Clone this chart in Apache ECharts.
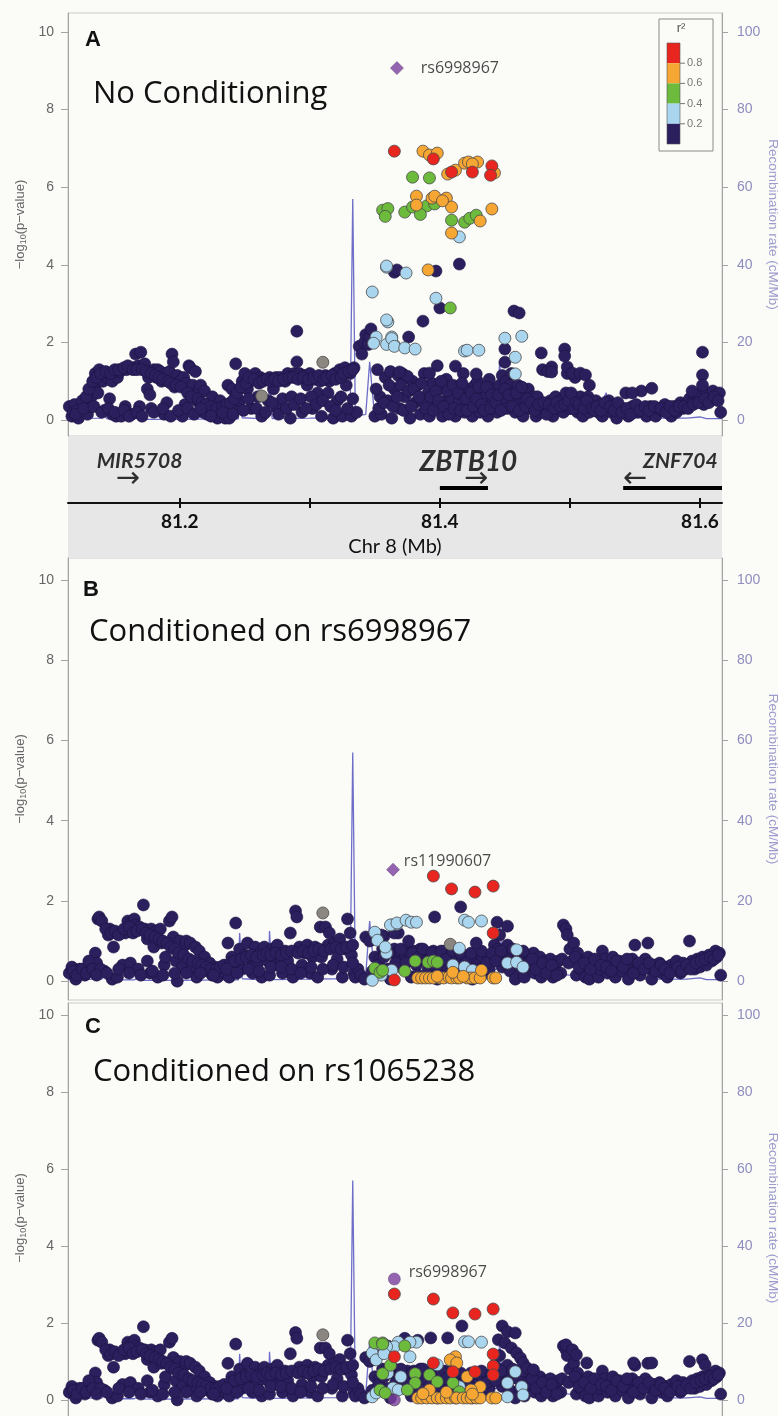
<!DOCTYPE html>
<html lang="en">
<head>
<meta charset="UTF-8">
<title>ZBTB10 regional association</title>
<script src="https://cdn.jsdelivr.net/npm/echarts@6/dist/echarts.min.js"></script>
<style>
  html, body { margin: 0; padding: 0; background: #fbfbf8; }
  #main { width: 778px; height: 1416px; }
</style>
</head>
<body>
<div id="main"></div>
<script>
// ---------- data (x = Chr 8 position in Mb, y = -log10 p) ----------
var r2Colors = ['#e8261f', '#f6a633', '#6cbb3c', '#a9d5ee', '#2c1f5e'];
var r2Breaks = ['0.8', '0.6', '0.4', '0.2'];
var yTicks = [0, 2, 4, 6, 8, 10];
var recTicks = [0, 20, 40, 60, 80, 100];
var chrTicks = [81.2, 81.3, 81.4, 81.5, 81.6];
var chrLabels = [81.2, 81.4, 81.6];

// recombination rate (cM/Mb), same map in every panel
var recomb = [[81.114,0.4],[81.140,0.5],[81.142,1.2],[81.144,0.3],[81.165,0.3],[81.168,0.8],[81.172,0.2],[81.200,0.2],
  [81.230,0.3],[81.245,0.3],[81.246,12],[81.248,0.6],[81.262,0.4],[81.264,0.8],[81.266,0.5],[81.268,0.6],[81.269,12.5],
  [81.271,0.4],[81.300,0.5],[81.320,0.6],[81.331,0.8],[81.333,57],[81.335,1],[81.343,1.5],[81.346,15],[81.349,4],
  [81.360,3],[81.380,2.5],[81.400,3],[81.420,2.5],[81.444,3],[81.446,15],[81.448,5],[81.460,3],[81.480,2],[81.500,1.5],
  [81.520,2],[81.528,7],[81.530,2],[81.545,0.8],[81.560,0.5],[81.590,0.5],[81.600,0.8],[81.605,0.4],[81.617,0.4]];

// genes
var geneNames = ['MIR5708', 'ZBTB10', 'ZNF704'];
var geneStart = [81.158, 81.400, 81.541];
var geneEnd = [81.159, 81.437, 81.617];
var geneStrand = ['+', '+', '-'];
var geneLabelX = [81.169, 81.422, 81.585];
var geneArrowX = [81.160, 81.428, 81.550];

// ---- panel A: no conditioning ----
var aLead = [[81.367, 9.07]];
var aRed = [[81.365,6.93],[81.395,6.73],[81.409,6.39],[81.425,6.39],[81.440,6.55],[81.439,6.31]];
var aOrange = [[81.387,6.93],[81.392,6.83],[81.398,6.88],[81.406,6.34],[81.412,6.44],[81.419,6.62],[81.422,6.65],
  [81.429,6.65],[81.442,6.37],[81.382,5.77],[81.382,5.54],[81.394,5.72],[81.396,5.77],[81.405,5.72],[81.409,5.49],
  [81.440,5.44],[81.431,5.13],[81.409,4.82],[81.391,3.87],[81.425,6.6],[81.402,5.65]];
var aGreen = [[81.379,6.26],[81.392,6.24],[81.356,5.41],[81.360,5.45],[81.358,5.25],[81.373,5.36],[81.379,5.49],
  [81.390,5.52],[81.396,5.57],[81.409,5.15],[81.419,5.1],[81.423,5.2],[81.428,5.28],[81.408,2.89],[81.385,5.3]];
var aLightBlue = [[81.415,4.72],[81.359,3.94],[81.374,3.79],[81.397,3.14],[81.360,2.53],[81.348,3.3],[81.359,3.97],
  [81.359,2.58],[81.351,2.14],[81.349,1.98],[81.363,2.14],[81.365,1.93],[81.359,1.95],[81.363,2.1],[81.365,1.9],
  [81.373,1.86],[81.381,1.83],[81.419,1.78],[81.421,1.8],[81.430,1.8],[81.450,2.11],[81.463,2.16],[81.458,1.62],[81.458,1.19]];
var aGrey = [[81.310,1.49],[81.263,0.62]];
var aNavy = [[81.115,0.35],[81.117,0.1],[81.119,0.4],[81.122,0.05],[81.124,0.3],[81.127,0.45],[81.129,0.15],[81.131,0.35],
  [81.132,0.6],[81.135,0.9],[81.135,1.2],[81.137,0.7],[81.138,1.3],[81.141,1.0],[81.142,0.25],[81.144,1.1],[81.146,0.55],
  [81.148,1.0],[81.148,0.15],[81.151,0.1],[81.152,1.1],[81.154,1.25],[81.155,0.1],[81.158,0.35],[81.159,1.3],[81.162,1.35],
  [81.163,0.15],[81.165,1.35],[81.166,1.7],[81.168,1.4],[81.169,0.35],[81.170,1.75],[81.172,1.4],[81.173,1.45],[81.175,0.8],
  [81.176,1.1],[81.177,0.65],[81.178,0.3],[81.180,1.3],[81.182,1.1],[81.183,1.3],[81.185,1.25],[81.186,1.0],[81.188,0.15],
  [81.189,1.2],[81.190,0.45],[81.192,1.25],[81.194,1.7],[81.195,1.5],[81.196,0.85],[81.198,1.15],[81.200,1.0],[81.202,0.1],
  [81.203,1.1],[81.204,0.4],[81.205,0.95],[81.207,1.4],[81.208,1.35],[81.210,0.9],[81.212,1.25],[81.213,0.5],[81.215,0.8],
  [81.216,0.9],[81.218,0.2],[81.219,0.75],[81.221,0.15],[81.223,0.4],[81.225,0.6],[81.227,0.3],[81.229,0.05],[81.231,0.5],
  [81.235,0.05],[81.237,0.9],[81.238,0.05],[81.240,0.8],[81.243,1.45],[81.245,0.35],[81.246,0.5],[81.248,1.0],[81.250,1.2],
  [81.252,0.8],[81.254,1.0],[81.255,0.3],[81.258,1.2],[81.260,0.6],[81.262,1.1],[81.263,0.1],[81.265,1.05],[81.268,0.5],
  [81.269,1.1],[81.272,0.8],[81.274,1.1],[81.275,0.3],[81.277,1.1],[81.279,0.55],[81.281,1.0],[81.283,1.2],[81.285,0.05],
  [81.286,0.6],[81.288,1.2],[81.290,1.5],[81.290,2.29],[81.292,1.2],[81.294,0.2],[81.296,1.15],[81.298,0.9],[81.300,1.2],
  [81.302,0.3],[81.304,1.05],[81.306,0.7],[81.308,1.0],[81.309,0.1],[81.312,1.15],[81.314,0.7],[81.315,1.0],[81.318,0.05],
  [81.319,1.2],[81.321,0.5],[81.323,1.3],[81.325,0.1],[81.327,1.35],[81.328,0.9],[81.331,1.2],[81.332,0.1],[81.334,1.35],
  [81.336,0.2],[81.338,1.9],[81.340,1.7],[81.342,2.0],[81.343,2.2],[81.345,1.95],[81.346,2.15],[81.347,2.35],
  [81.350,0.1],[81.352,1.3],[81.354,0.6],[81.355,0.15],[81.358,1.1],[81.360,0.5],[81.362,1.25],[81.363,0.05],[81.365,0.8],
  [81.368,1.15],[81.369,0.3],[81.371,1.2],[81.373,0.6],[81.375,1.1],[81.377,0.05],[81.379,1.0],[81.381,0.45],[81.383,0.9],
  [81.385,0.15],[81.387,0.5],[81.388,1.2],[81.391,0.7],[81.392,0.1],[81.394,0.95],[81.396,0.4],[81.398,1.4],[81.400,0.8],
  [81.402,0.1],[81.404,0.5],[81.405,1.05],[81.408,0.3],[81.409,0.55],[81.412,0.1],[81.413,0.85],[81.415,0.5],[81.418,1.2],
  [81.419,0.2],[81.422,0.8],[81.423,0.4],[81.425,0.1],[81.427,0.9],[81.429,1.0],[81.431,0.2],[81.433,0.7],[81.435,0.6],
  [81.437,0.1],[81.438,1.05],[81.441,0.5],[81.442,0.8],[81.444,0.2],[81.446,0.9],[81.448,1.15],[81.449,0.5],[81.451,1.0],
  [81.452,0.3],[81.454,0.9],[81.455,1.2],[81.457,0.6],[81.458,0.2],[81.460,0.9],[81.462,0.5],[81.464,0.1],[81.465,0.55],
  [81.468,0.8],[81.469,0.3],[81.472,0.6],[81.474,0.1],[81.475,0.6],[81.477,0.2],[81.479,1.3],[81.481,0.3],[81.483,1.25],
  [81.485,0.5],[81.487,0.1],[81.489,0.6],[81.491,0.3],[81.492,0.5],[81.495,0.2],[81.497,0.7],[81.498,1.2],[81.500,0.3],
  [81.502,0.5],[81.504,1.1],[81.506,0.2],[81.508,0.6],[81.510,0.1],[81.512,0.4],[81.514,0.6],[81.515,0.2],[81.518,0.4],
  [81.520,0.5],[81.522,0.2],[81.523,0.4],[81.525,0.1],[81.528,0.3],[81.530,0.5],[81.532,0.2],[81.535,0.4],[81.536,0.05],
  [81.538,0.3],[81.541,0.3],[81.543,0.7],[81.545,0.1],[81.548,0.35],[81.550,0.3],[81.552,0.2],[81.555,0.75],[81.557,0.3],
  [81.559,0.1],[81.562,0.35],[81.564,0.3],[81.566,0.1],[81.568,0.3],[81.571,0.25],[81.573,0.4],[81.575,0.3],[81.578,0.1],
  [81.580,0.35],[81.582,0.2],[81.585,0.45],[81.587,0.3],[81.589,0.4],[81.592,0.55],[81.594,0.45],[81.596,0.6],[81.598,0.5],
  [81.600,0.65],[81.603,0.4],[81.605,0.7],[81.608,0.55],[81.610,0.75],[81.612,0.6],[81.615,0.7],[81.616,0.2],
  [81.365,3.81],[81.367,3.87],[81.397,3.84],[81.415,4.02],[81.400,2.89],[81.387,2.55],[81.376,2.14],[81.457,2.81],
  [81.461,2.76],[81.450,1.83],[81.478,1.73],[81.496,1.83],[81.496,1.65],[81.498,1.37],[81.502,1.21],[81.508,1.21],
  [81.512,1.16],[81.515,0.9],[81.602,1.75],[81.602,1.16],[81.602,0.9],[81.594,0.75],[81.412,1.39],[81.428,1.19],
  [81.450,1.49],[81.392,1.21],[81.375,1.13],[81.369,1.24],[81.563,0.82],[81.548,0.7],[81.486,1.37],[81.486,1.24]];
// denser band of panel A background SNPs
var aNavyBand = [[81.118,0.2],[81.121,0.25],[81.125,0.5],[81.128,0.6],[81.130,0.8],[81.133,1.0],[81.136,1.1],[81.139,1.2],
  [81.143,1.25],[81.147,1.2],[81.150,1.3],[81.153,1.3],[81.157,1.35],[81.160,1.4],[81.164,1.3],[81.167,1.3],[81.171,1.3],
  [81.174,1.25],[81.178,1.2],[81.181,1.15],[81.184,1.1],[81.187,1.05],[81.191,1.0],[81.193,0.95],[81.197,0.9],[81.201,0.85],
  [81.206,0.7],[81.209,0.6],[81.214,0.55],[81.217,0.45],[81.220,0.4],[81.224,0.35],[81.228,0.3],[81.233,0.35],[81.236,0.4],
  [81.239,0.45],[81.242,0.55],[81.244,0.7],[81.247,0.85],[81.251,0.95],[81.253,1.1],[81.257,1.05],[81.261,0.95],[81.264,1.0],
  [81.267,1.05],[81.270,1.0],[81.273,1.05],[81.276,1.0],[81.280,1.05],[81.284,1.1],[81.287,1.1],[81.291,1.05],[81.295,1.1],
  [81.299,1.05],[81.303,1.1],[81.307,1.15],[81.311,1.05],[81.313,1.1],[81.317,1.15],[81.320,1.05],[81.324,1.1],[81.326,1.2],
  [81.330,1.25],[81.333,1.3],[81.120,0.15],[81.126,0.3],[81.134,0.35],[81.140,0.2],[81.145,0.3],[81.150,0.2],[81.157,0.25],
  [81.161,0.1],[81.167,0.2],[81.171,0.1],[81.180,0.2],[81.187,0.3],[81.193,0.1],[81.199,0.25],[81.206,0.3],[81.211,0.15],
  [81.216,0.3],[81.224,0.1],[81.233,0.2],[81.241,0.15],[81.249,0.25],[81.253,0.55],[81.259,0.3],[81.266,0.2],[81.271,0.45],
  [81.276,0.15],[81.282,0.3],[81.288,0.4],[81.293,0.55],[81.297,0.3],[81.301,0.6],[81.305,0.4],[81.310,0.5],[81.316,0.35],
  [81.320,0.25],[81.324,0.6],[81.329,0.3],[81.333,0.55],
  [81.351,0.8],[81.353,0.3],[81.357,0.45],[81.361,0.9],[81.364,0.35],[81.367,0.6],[81.370,0.9],[81.372,0.25],[81.376,0.75],
  [81.378,0.35],[81.380,0.8],[81.384,0.6],[81.386,0.95],[81.389,0.3],[81.393,0.6],[81.395,0.25],[81.397,0.75],[81.399,0.5],
  [81.401,1.0],[81.403,0.35],[81.406,0.75],[81.407,0.15],[81.410,0.9],[81.411,0.3],[81.414,0.7],[81.416,0.25],[81.417,0.95],
  [81.420,0.55],[81.421,0.25],[81.424,0.7],[81.426,0.35],[81.428,0.55],[81.430,0.85],[81.432,0.4],[81.434,0.25],[81.436,0.85],
  [81.439,0.3],[81.440,0.65],[81.443,0.45],[81.445,0.65],[81.447,0.25],[81.450,0.8],[81.453,0.65],[81.456,0.35],[81.459,0.7],
  [81.461,0.25],[81.463,0.85],[81.466,0.35],[81.467,0.55],[81.470,0.45],[81.473,0.25],[81.476,0.4],[81.480,0.45],[81.482,0.15],
  [81.484,0.4],[81.488,0.3],[81.490,0.45],[81.493,0.35],[81.496,0.4],[81.499,0.5],[81.501,0.7],[81.503,0.3],[81.505,0.45],
  [81.507,0.4],[81.511,0.3],[81.513,0.5],[81.517,0.3],[81.519,0.25],[81.521,0.35],[81.524,0.25],[81.527,0.45],[81.531,0.35],
  [81.534,0.25],[81.537,0.45],[81.540,0.2],[81.544,0.3],[81.547,0.15],[81.551,0.4],[81.554,0.25],[81.558,0.35],[81.561,0.25],
  [81.565,0.35],[81.570,0.3],[81.574,0.2],[81.577,0.35],[81.581,0.25],[81.584,0.35],[81.588,0.35],[81.591,0.3],[81.595,0.4],
  [81.599,0.45],[81.604,0.55],[81.607,0.45],[81.611,0.6],[81.614,0.5]];

// ---- background SNPs shared by panels B and C ----
var bcNavy = [[81.115,0.2],[81.117,0.35],[81.120,0.05],[81.123,0.3],[81.127,0.15],[81.129,0.35],[81.132,0.4],[81.135,0.7],
  [81.136,0.45],[81.137,1.55],[81.138,1.6],[81.140,1.5],[81.142,0.25],[81.145,1.15],[81.146,1.3],[81.148,0.05],[81.149,0.85],
  [81.151,1.2],[81.152,0.1],[81.154,1.2],[81.156,0.4],[81.158,1.2],[81.160,1.5],[81.162,0.45],[81.163,1.45],[81.165,1.55],
  [81.166,1.4],[81.168,0.3],[81.169,1.35],[81.172,1.9],[81.173,1.3],[81.175,0.5],[81.175,1.05],[81.177,0.2],[81.178,1.3],
  [81.180,0.85],[81.182,1.25],[81.183,0.1],[81.185,1.3],[81.186,0.95],[81.188,0.4],[81.189,0.6],[81.192,1.5],[81.194,1.6],
  [81.195,1.1],[81.197,0.5],[81.198,0.0],[81.200,1.0],[81.202,0.35],[81.204,0.9],[81.205,1.0],[81.208,0.95],[81.209,0.3],
  [81.212,0.85],[81.213,0.1],[81.215,0.75],[81.218,0.5],[81.219,0.6],[81.222,0.25],[81.223,0.45],[81.225,0.15],[81.227,0.35],
  [81.229,0.1],[81.232,0.3],[81.235,0.2],[81.237,0.95],[81.238,0.1],[81.240,0.6],[81.243,1.45],[81.245,0.45],[81.246,0.8],
  [81.248,0.3],[81.250,0.65],[81.252,0.95],[81.254,0.55],[81.256,0.2],[81.258,0.85],[81.260,0.45],[81.262,0.7],[81.263,0.1],
  [81.265,0.85],[81.268,0.5],[81.269,0.15],[81.271,0.8],[81.273,0.4],[81.275,0.9],[81.277,0.6],[81.279,0.2],[81.281,0.75],
  [81.283,0.5],[81.285,1.2],[81.287,0.1],[81.289,1.75],[81.290,1.6],[81.292,0.85],[81.294,0.4],[81.296,0.7],[81.298,0.9],
  [81.300,0.2],[81.302,0.6],[81.304,0.85],[81.306,0.1],[81.308,1.35],[81.309,0.6],[81.312,1.35],[81.314,0.9],[81.315,1.2],
  [81.317,0.3],[81.319,0.95],[81.321,0.55],[81.323,1.05],[81.325,0.1],[81.327,0.8],[81.329,1.55],[81.331,1.2],[81.332,0.65],
  [81.334,0.2],[81.335,0.1],[81.337,0.3],[81.339,0.15],[81.342,0.05],[81.343,1.1],[81.346,1.0],[81.348,0.25],[81.350,0.6],
  [81.352,1.15],[81.354,0.55],[81.356,0.8],[81.358,0.75],[81.360,0.3],[81.362,0.05],[81.364,0.75],[81.365,0.8],[81.368,0.6],
  [81.369,0.75],[81.372,0.3],[81.373,0.7],[81.375,0.75],[81.377,0.55],[81.378,0.1],[81.380,0.75],[81.382,0.4],[81.383,0.15],
  [81.385,0.8],[81.386,0.55],[81.388,0.75],[81.391,0.3],[81.392,0.6],[81.395,0.75],[81.396,0.55],[81.398,0.05],[81.400,0.6],
  [81.402,0.15],[81.404,0.75],[81.406,0.35],[81.408,0.65],[81.409,0.2],[81.412,0.55],[81.414,0.4],[81.415,0.1],[81.417,0.5],
  [81.418,0.15],[81.421,0.6],[81.423,0.35],[81.425,0.05],[81.427,0.55],[81.429,0.4],[81.431,0.15],[81.433,0.6],[81.435,0.2],
  [81.437,0.5],[81.438,0.3],[81.442,0.9],[81.445,0.8],[81.446,1.15],[81.448,0.35],[81.450,0.65],[81.452,0.9],[81.454,0.25],
  [81.455,0.55],[81.458,0.05],[81.459,0.75],[81.462,0.3],[81.463,0.55],[81.465,0.1],[81.467,0.6],[81.469,0.35],[81.472,0.7],
  [81.473,0.2],[81.475,0.45],[81.477,0.6],[81.478,0.1],[81.481,0.5],[81.483,0.35],[81.485,0.55],[81.487,0.1],[81.489,0.3],
  [81.491,0.5],[81.493,0.2],[81.495,1.4],[81.497,1.3],[81.498,1.15],[81.500,0.8],[81.502,0.5],[81.503,0.95],[81.505,0.15],
  [81.506,0.7],[81.508,0.3],[81.509,0.5],[81.512,0.1],[81.514,0.6],[81.515,0.05],[81.518,0.35],[81.520,0.5],[81.522,0.1],
  [81.523,0.3],[81.525,0.75],[81.527,0.55],[81.529,0.2],[81.531,0.4],[81.533,0.6],[81.535,0.1],[81.537,0.35],[81.538,0.5],
  [81.540,0.25],[81.542,0.45],[81.545,0.05],[81.546,0.35],[81.548,0.55],[81.550,0.9],[81.552,0.3],[81.554,0.15],[81.556,0.4],
  [81.558,0.55],[81.560,0.95],[81.562,0.3],[81.563,0.05],[81.565,0.4],[81.568,0.3],[81.569,0.45],[81.571,0.2],[81.574,0.35],
  [81.575,0.1],[81.578,0.4],[81.580,0.3],[81.582,0.5],[81.585,0.2],[81.587,0.45],[81.589,0.3],[81.592,1.0],[81.594,0.5],
  [81.596,0.3],[81.598,0.55],[81.600,0.35],[81.602,0.6],[81.605,0.4],[81.607,0.65],[81.609,0.5],[81.612,0.75],[81.613,0.6],
  [81.615,0.7],[81.616,0.15]];
var bcNavyBand = [[81.118,0.25],[81.121,0.15],[81.125,0.3],[81.128,0.2],[81.130,0.5],[81.133,0.3],[81.139,0.3],[81.143,1.3],
  [81.147,1.2],[81.150,1.25],[81.153,1.15],[81.157,1.3],[81.161,1.35],[81.164,1.2],[81.167,1.25],[81.171,1.3],[81.174,1.2],
  [81.177,1.15],[81.181,1.1],[81.184,1.05],[81.187,1.0],[81.190,0.95],[81.193,0.85],[81.196,0.8],[81.199,0.7],[81.203,0.65],
  [81.207,0.55],[81.210,0.5],[81.214,0.45],[81.217,0.4],[81.220,0.35],[81.224,0.3],[81.228,0.3],[81.231,0.35],[81.234,0.4],
  [81.239,0.45],[81.242,0.5],[81.247,0.55],[81.251,0.6],[81.255,0.65],[81.259,0.6],[81.264,0.65],[81.267,0.7],[81.270,0.65],
  [81.274,0.7],[81.278,0.65],[81.282,0.7],[81.286,0.75],[81.291,0.7],[81.295,0.75],[81.299,0.7],[81.303,0.75],[81.307,0.8],
  [81.311,0.75],[81.316,0.8],[81.320,0.85],[81.324,0.8],[81.328,0.85],[81.333,0.9],[81.136,0.15],[81.144,0.2],[81.153,0.3],
  [81.161,0.2],[81.170,0.15],[81.179,0.25],[81.187,0.15],[81.196,0.2],[81.205,0.2],[81.216,0.2],[81.226,0.15],[81.236,0.3],
  [81.244,0.2],[81.253,0.3],[81.261,0.25],[81.270,0.35],[81.278,0.35],[81.286,0.3],[81.293,0.2],[81.301,0.35],[81.310,0.3],
  [81.318,0.4],[81.326,0.35],[81.333,0.45],
  [81.353,0.4],[81.357,0.6],[81.361,0.7],[81.366,0.45],[81.370,0.8],[81.374,0.45],[81.379,0.7],[81.384,0.6],[81.387,0.8],
  [81.390,0.5],[81.394,0.7],[81.397,0.35],[81.401,0.75],[81.405,0.55],[81.410,0.75],[81.413,0.3],[81.416,0.7],[81.420,0.45],
  [81.424,0.7],[81.428,0.3],[81.432,0.75],[81.436,0.45],[81.440,0.7],[81.443,0.5],[81.447,0.75],[81.451,0.45],[81.456,0.8],
  [81.460,0.55],[81.464,0.75],[81.468,0.45],[81.471,0.55],[81.474,0.3],[81.479,0.45],[81.482,0.2],[81.486,0.4],[81.490,0.15],
  [81.494,0.55],[81.499,0.45],[81.504,0.6],[81.507,0.35],[81.511,0.45],[81.516,0.3],[81.519,0.55],[81.524,0.4],[81.528,0.35],
  [81.532,0.25],[81.536,0.5],[81.541,0.35],[81.544,0.55],[81.549,0.2],[81.553,0.45],[81.557,0.3],[81.561,0.45],[81.566,0.25],
  [81.570,0.4],[81.573,0.3],[81.577,0.2],[81.583,0.35],[81.586,0.25],[81.590,0.4],[81.593,0.3],[81.597,0.45],[81.601,0.5],
  [81.604,0.55],[81.608,0.6],[81.611,0.55],[81.614,0.65]];

// ---- panel B: conditioned on rs6998967 ----
var bLead = [[81.364, 2.78]];
var bNavy = [[81.396,1.6],[81.416,1.85],[81.444,1.47],[81.452,1.37],[81.368,1.2],[81.357,1.12],[81.376,1.0],[81.428,0.95],
  [81.365,1.2],[81.355,1.15]];
var bRed = [[81.395,2.62],[81.409,2.3],[81.427,2.22],[81.441,2.37],[81.441,1.2],[81.365,0.03]];
var bOrange = [[81.383,0.08],[81.386,0.08],[81.389,0.08],[81.392,0.08],[81.395,0.08],[81.400,0.08],[81.403,0.08],
  [81.407,0.1],[81.409,0.08],[81.413,0.08],[81.415,0.08],[81.421,0.08],[81.424,0.08],[81.427,0.08],[81.431,0.08],
  [81.441,0.08],[81.443,0.08],[81.432,0.27],[81.410,0.22],[81.398,0.12],[81.418,0.12]];
var bGreen = [[81.350,0.32],[81.354,0.22],[81.356,0.27],[81.373,0.25],[81.381,0.5],[81.391,0.47],[81.395,0.5],[81.398,0.47]];
var bLightBlue = [[81.350,1.22],[81.352,1.02],[81.363,1.4],[81.367,1.42],[81.362,1.4],[81.367,1.45],[81.374,1.52],
  [81.378,1.47],[81.382,1.47],[81.419,1.52],[81.422,1.47],[81.432,1.5],[81.359,0.7],[81.415,0.82],[81.410,0.4],
  [81.363,0.27],[81.419,0.35],[81.425,0.27],[81.452,0.45],[81.459,0.78],[81.459,0.47],[81.464,0.35],[81.355,0.15],
  [81.348,0.02],[81.358,0.85]];
var bGrey = [[81.310,1.7],[81.408,0.92]];

// ---- panel C: conditioned on rs1065238 ----
var cLead = [[81.365, 3.14]];
var cPurple = [[81.365, 0.0]];
var cNavy = [[81.417,1.92],[81.393,1.61],[81.406,1.61],[81.373,1.6],[81.448,1.92],[81.452,1.77],[81.458,1.74],[81.445,1.56],
  [81.450,1.48],[81.455,1.35],[81.459,1.22],[81.462,1.09],[81.464,0.96],[81.467,0.83],[81.472,0.78],[81.497,1.43],
  [81.502,1.3],[81.505,1.17],[81.513,0.96],[81.549,0.96],[81.563,0.96],[81.602,1.04],[81.604,0.91],[81.383,1.55],[81.360,1.4]];
var cRed = [[81.365,2.75],[81.395,2.62],[81.410,2.26],[81.427,2.23],[81.441,2.36],[81.441,1.19],[81.365,1.12],[81.395,0.96],
  [81.410,0.73],[81.427,0.73],[81.441,0.88],[81.441,0.65]];
var cOrange = [[81.383,0.05],[81.386,0.05],[81.390,0.05],[81.394,0.05],[81.398,0.05],[81.401,0.05],[81.405,0.05],
  [81.408,0.05],[81.412,0.05],[81.413,0.05],[81.418,0.05],[81.421,0.05],[81.424,0.05],[81.428,0.05],[81.431,0.05],
  [81.440,0.05],[81.443,0.05],[81.412,1.12],[81.408,1.04],[81.413,0.96],[81.421,0.6],[81.431,0.34],[81.424,0.26],
  [81.392,0.26],[81.387,0.16],[81.425,0.15],[81.405,0.2]];
var cGreen = [[81.350,1.48],[81.356,1.48],[81.354,0.26],[81.358,0.18],[81.356,1.45],[81.373,1.4],[81.381,0.68],[81.381,0.44],
  [81.392,0.65],[81.398,0.47],[81.375,0.26],[81.410,0.44],[81.415,0.21],[81.356,0.68],[81.362,0.9]];
var cLightBlue = [[81.419,1.51],[81.422,1.51],[81.432,1.5],[81.382,1.5],[81.377,1.5],[81.368,1.5],[81.365,1.38],[81.359,1.38],
  [81.348,1.22],[81.351,1.04],[81.360,0.7],[81.364,0.31],[81.348,0.08],[81.351,0.18],[81.452,0.44],[81.458,0.73],
  [81.463,0.34],[81.452,0.08],[81.464,0.13],[81.415,0.34],[81.377,1.12],[81.368,0.26],[81.398,0.91],[81.357,1.2],[81.370,0.6]];
var cGrey = [[81.310,1.69]];

// ---------- layout ----------
var X_MIN = 81.114, X_MAX = 81.617;
var LEFT = 68, WIDTH = 654;
var panels = [
  {top: 13,   height: 423, yMin: -0.41, yMax: 10.49, letter: 'A', title: 'No Conditioning', lty: 41, tty: 100,
   lead: aLead, leadName: 'rs6998967', leadSymbol: 'diamond', leadOffset: [9, 0],
   sets: [aNavy.concat(aNavyBand), aGrey, aLightBlue, aGreen, aOrange, aRed]},
  {top: 558,  height: 442, yMin: -0.47, yMax: 10.55, letter: 'B', title: 'Conditioned on rs6998967', lty: 591, tty: 638,
   lead: bLead, leadName: 'rs11990607', leadSymbol: 'diamond', leadOffset: [-4, -8],
   sets: [bcNavy.concat(bcNavyBand, bNavy), bGrey, bLightBlue, bGreen, bOrange, bRed]},
  {top: 1003, height: 430, yMin: -0.86, yMax: 10.31, letter: 'C', title: 'Conditioned on rs1065238', lty: 1028, tty: 1078,
   lead: cLead, leadName: 'rs6998967', leadSymbol: 'circle', leadOffset: [0, -7],
   sets: [bcNavy.concat(bcNavyBand, cNavy), cGrey, cLightBlue, cGreen, cOrange, cRed], extra: cPurple}
];
var setColors = [r2Colors[4], '#8b8680', r2Colors[3], r2Colors[2], r2Colors[1], r2Colors[0]];
var PURPLE = '#7b3f9e';
var GENE_GRID = 3;
var DOT = 12;

var chart = echarts.init(document.getElementById('main'));

var grids = [], xAxes = [], yAxes = [], series = [], graphics = [];

panels.forEach(function (p, i) {
  grids.push({left: LEFT, width: WIDTH, top: p.top, height: p.height, show: true, outerBoundsMode: 'none',
    borderColor: '#c9c9c9', borderWidth: 1, backgroundColor: 'transparent'});
  xAxes.push({gridIndex: i, type: 'value', min: X_MIN, max: X_MAX, show: false});
  yAxes.push({
    gridIndex: i, type: 'value', position: 'left', min: p.yMin, max: p.yMax,
    axisLine: {show: true, lineStyle: {color: '#a3a3a3'}},
    axisTick: {show: true, length: 7, customValues: yTicks, lineStyle: {color: '#a3a3a3'}},
    axisLabel: {customValues: yTicks, color: '#666', fontSize: 14, margin: 14, fontFamily: 'Liberation Sans'},
    splitLine: {show: false},
    name: '−log{s|10}(p−value)', nameLocation: 'middle', nameGap: 40,
    nameTextStyle: {color: '#666', fontSize: 13, fontFamily: 'Liberation Sans',
      rich: {s: {fontSize: 9, fontFamily: 'Liberation Sans', color: '#666', padding: [6, 0, 0, 0]}}}
  });
  yAxes.push({
    gridIndex: i, type: 'value', position: 'right', min: p.yMin * 10, max: p.yMax * 10,
    axisLine: {show: true, lineStyle: {color: '#a3a3a3'}},
    axisTick: {show: true, length: 6, customValues: recTicks, lineStyle: {color: '#a3a3a3'}},
    axisLabel: {customValues: recTicks, color: '#8d8dbf', fontSize: 14, margin: 15, fontFamily: 'Liberation Sans'},
    splitLine: {show: false},
    name: 'Recombination rate (cM/Mb)', nameLocation: 'middle', nameRotate: -90, nameGap: 44,
    nameMoveOverlap: false,
    nameTextStyle: {color: '#9c9cce', fontSize: 13.5, fontFamily: 'Liberation Sans'}
  });

  // recombination line
  series.push({type: 'line', xAxisIndex: i, yAxisIndex: i * 2 + 1, data: recomb, symbol: 'none',
    lineStyle: {color: '#6e6ec8', width: 1.3}, z: 1, silent: true});

  p.sets.forEach(function (set, k) {
    series.push({type: 'scatter', xAxisIndex: i, yAxisIndex: i * 2, data: set, symbolSize: DOT, z: 2 + k,
      itemStyle: {color: setColors[k], borderColor: k === 0 ? '#1b1240' : '#4a4a4a', borderWidth: k === 0 ? 0.6 : 0.8, opacity: 1}});
  });
  if (p.extra) {
    series.push({type: 'scatter', xAxisIndex: i, yAxisIndex: i * 2, data: p.extra, symbolSize: DOT, z: 9,
      itemStyle: {color: PURPLE, borderColor: '#4a4a4a', borderWidth: 0.8}});
  }
  series.push({type: 'scatter', xAxisIndex: i, yAxisIndex: i * 2, data: p.lead, symbol: p.leadSymbol,
    symbolSize: p.leadSymbol === 'diamond' ? 13 : DOT, z: 10,
    itemStyle: {color: PURPLE, borderColor: '#5a3a70', borderWidth: 0.6},
    label: {show: true, position: 'right', distance: 8, offset: p.leadOffset, formatter: p.leadName,
      color: '#1a1a1a', fontSize: 16, fontFamily: 'Open Sans'}});

  graphics.push({type: 'text', left: i === 1 ? 83 : 85, top: p.lty - 12,
    style: {text: p.letter, font: 'bold 22px "Liberation Sans"', fill: '#111'}});
  graphics.push({type: 'text', left: i === 1 ? 89 : 93, top: p.tty - 21,
    style: {text: p.title, font: '31px "Open Sans"', fill: '#111'}});
});

// gene track grid
grids.push({left: LEFT, width: WIDTH, top: 436, height: 122, show: true, outerBoundsMode: 'none',
  borderWidth: 0, backgroundColor: '#e7e7e7'});
xAxes.push({
  gridIndex: GENE_GRID, type: 'value', min: X_MIN, max: X_MAX, position: 'bottom', offset: -55,
  axisLine: {show: true, lineStyle: {color: '#111', width: 2}},
  axisTick: {show: true, length: 5, customValues: chrTicks, lineStyle: {color: '#111', width: 2}},
  axisLabel: {customValues: chrLabels, formatter: function (v) { return v.toFixed(1); },
    color: '#111', fontSize: 19, fontWeight: 'bold', fontFamily: 'Lato', margin: 9},
  splitLine: {show: false},
  name: 'Chr 8 (Mb)', nameLocation: 'middle', nameGap: 34,
  nameTextStyle: {color: '#111', fontSize: 20, fontFamily: 'Lato'}
});
xAxes.push({
  gridIndex: GENE_GRID, type: 'value', min: X_MIN, max: X_MAX, position: 'bottom', offset: -55,
  axisLine: {show: false},
  axisTick: {show: true, inside: true, length: 5, customValues: chrTicks, lineStyle: {color: '#111', width: 2}},
  axisLabel: {show: false}, splitLine: {show: false}
});
yAxes.push({gridIndex: GENE_GRID, type: 'value', min: 0, max: 1, show: false});
var geneY = yAxes.length - 1;

geneNames.forEach(function (g, i) {
  // tiny genes (the miRNA) have no visible body at this scale
  if (geneEnd[i] - geneStart[i] < 0.005) return;
  series.push({type: 'line', xAxisIndex: 3, yAxisIndex: geneY, symbol: 'none', silent: true,
    data: [[geneStart[i], 0.574], [geneEnd[i], 0.574]], lineStyle: {color: '#000', width: 4}});
});
series.push({type: 'scatter', xAxisIndex: 3, yAxisIndex: geneY, symbolSize: 0, silent: true,
  data: geneNames.map(function (g, i) {
    return {value: [geneLabelX[i], 0.79], name: g,
      label: {fontSize: g === 'ZBTB10' ? 28 : 21}};
  }),
  label: {show: true, position: 'inside', formatter: '{b}', color: '#000', fontStyle: 'italic',
    fontWeight: 'bold', fontFamily: 'Lato'}});
series.push({type: 'scatter', xAxisIndex: 3, yAxisIndex: geneY, symbolSize: 0, silent: true,
  data: geneNames.map(function (g, i) {
    return {value: [geneArrowX[i], 0.64], name: geneStrand[i] === '+' ? '→' : '←'};
  }),
  label: {show: true, position: 'inside', formatter: '{b}', color: '#000', fontSize: 29,
    fontFamily: 'DejaVu Sans'}});

// r² legend box
var legendChildren = [
  {type: 'rect', shape: {x: 659, y: 19, width: 54, height: 132}, style: {fill: '#fbfbf8', stroke: '#8a8a8a', lineWidth: 1}},
  {type: 'text', x: 681, y: 22, style: {text: 'r²', font: '13px "Liberation Sans"', fill: '#555', textAlign: 'center'}}
];
r2Colors.forEach(function (c, k) {
  legendChildren.push({type: 'rect', shape: {x: 667, y: 43 + k * 20.2, width: 13, height: 20.2}, style: {fill: c}});
});
legendChildren.push({type: 'rect', shape: {x: 667, y: 43, width: 13, height: 101}, style: {fill: 'none', stroke: '#555', lineWidth: 0.6}});
r2Breaks.forEach(function (b, k) {
  var y = 43 + (k + 1) * 20.2;
  legendChildren.push({type: 'line', shape: {x1: 680, y1: y, x2: 685, y2: y}, style: {stroke: '#777', lineWidth: 1}});
  legendChildren.push({type: 'text', x: 687, y: y, style: {text: b, font: '11px "Liberation Sans"', fill: '#777', textVerticalAlign: 'middle'}});
});
graphics.push({type: 'group', children: legendChildren, z: 20});

chart.setOption({
  backgroundColor: '#fbfbf8',
  animation: false,
  grid: grids,
  xAxis: xAxes,
  yAxis: yAxes,
  series: series,
  graphic: graphics
});
</script>
</body>
</html>
